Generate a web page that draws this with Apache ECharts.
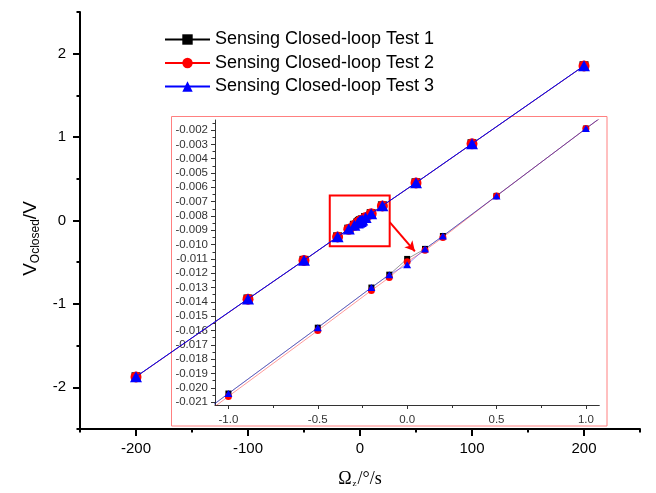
<!DOCTYPE html>
<html>
<head>
<meta charset="utf-8">
<script src="https://cdn.jsdelivr.net/npm/echarts@6/dist/echarts.min.js"></script>
<style>
html, body { margin: 0; padding: 0; background: #fff; }
#main { width: 656px; height: 493px; }
</style>
</head>
<body>
<div id="main"></div>
<script>
// angular rate set points (deg/s), same for all three tests
const omega = [-200, -100, -50, -20, -10, -5, -2, -1, -0.5, -0.2, -0.1, 0, 0.1, 0.2, 0.5, 1, 2, 5, 10, 20, 50, 100, 200];
// closed-loop output (V)
const test1 = [-1.874, -0.941, -0.478, -0.196, -0.104, -0.0575, -0.0297, -0.0204, -0.0158, -0.0130, -0.0121, -0.0110, -0.0103, -0.0094, -0.0066, -0.0019, 0.0074, 0.0353, 0.0818, 0.176, 0.452, 0.920, 1.855];
const test2 = [-1.876, -0.943, -0.479, -0.197, -0.105, -0.0578, -0.0299, -0.0206, -0.0160, -0.0132, -0.0123, -0.0112, -0.0104, -0.0095, -0.0066, -0.0019, 0.0072, 0.0351, 0.0816, 0.175, 0.451, 0.919, 1.853];
const test3 = [-1.873, -0.940, -0.477, -0.195, -0.103, -0.0573, -0.0296, -0.0204, -0.0158, -0.0130, -0.0121, -0.0114, -0.0103, -0.0094, -0.0066, -0.0019, 0.0074, 0.0354, 0.0819, 0.177, 0.453, 0.921, 1.856];

const names = ['Sensing Closed-loop Test 1', 'Sensing Closed-loop Test 2', 'Sensing Closed-loop Test 3'];

// tick labels
const mainXTicks = [-200, -100, 0, 100, 200];
const mainXMinor = [-250, -150, -50, 50, 150, 250];
const mainYTicks = [-2, -1, 0, 1, 2];
const mainYMinor = [-2.5, -1.5, -0.5, 0.5, 1.5, 2.5];
const insetXTicks = [-1, -0.5, 0, 0.5, 1];
const insetXMinor = [-0.75, -0.25, 0.25, 0.75];
const insetYTicks = [-0.021, -0.020, -0.019, -0.018, -0.017, -0.016, -0.015, -0.014, -0.013, -0.012, -0.011,
  -0.010, -0.009, -0.008, -0.007, -0.006, -0.005, -0.004, -0.003, -0.002];
const insetYMinor = [-0.0205, -0.0195, -0.0185, -0.0175, -0.0165, -0.0155, -0.0145, -0.0135, -0.0125, -0.0115,
  -0.0105, -0.0095, -0.0085, -0.0075, -0.0065, -0.0055, -0.0045, -0.0035, -0.0025, -0.0015];

// zoom box around the small-rate cluster and the arrow to the inset (main axes units)
const zoomBox = [[-27, 0.30], [26.5, -0.31]];
const arrowFrom = [26.5, -0.02];
const arrowTo = [49, -0.37];

const colors = ['#000000', '#ff0000', '#0000ff'];
const tests = [test1, test2, test3];
const font = "'Liberation Sans', Arial, sans-serif";

function pairs(ys) {
  return omega.map((x, i) => [x, ys[i]]);
}

const chart = echarts.init(document.getElementById('main'));

const mainSymbols = [['rect', 9], ['circle', 11], ['triangle', [12, 11]]];
const insetSymbols = [['rect', 6], ['circle', 7], ['triangle', [8, 7]]];

const series = [];
tests.forEach((ys, i) => {
  const s = {
    name: names[i],
    type: 'line',
    xAxisIndex: 0,
    yAxisIndex: 0,
    data: pairs(ys),
    symbol: mainSymbols[i][0],
    symbolSize: mainSymbols[i][1],
    showAllSymbol: true,
    color: colors[i],
    lineStyle: { color: colors[i], width: i === 2 ? 1 : 0.5 },
    itemStyle: { color: colors[i] },
    z: 5 + i
  };
  if (i === 2) {
    s.markArea = {
      silent: true,
      itemStyle: { color: 'transparent', borderColor: '#ff0000', borderWidth: 2 },
      data: [[{ coord: zoomBox[0] }, { coord: zoomBox[1] }]]
    };
    s.markLine = {
      silent: true,
      symbol: ['none', 'arrow'],
      symbolSize: [8, 10],
      label: { show: false },
      lineStyle: { color: '#ff0000', width: 2, type: 'solid' },
      data: [[{ coord: arrowFrom }, { coord: arrowTo }]]
    };
  }
  series.push(s);
});
tests.forEach((ys, i) => {
  series.push({
    name: names[i],
    type: 'line',
    xAxisIndex: 2,
    yAxisIndex: 2,
    data: pairs(ys),
    clip: true,
    symbol: insetSymbols[i][0],
    symbolSize: insetSymbols[i][1],
    showAllSymbol: true,
    color: colors[i],
    lineStyle: { color: colors[i], width: 1, opacity: 0.4 },
    itemStyle: { color: colors[i] },
    z: 3 + i
  });
});

const mainLine = { show: true, onZero: false, lineStyle: { color: '#000', width: 2 } };
const insetLine = { show: true, onZero: false, lineStyle: { color: '#333', width: 1 } };
const noLine = { show: false, onZero: false };

chart.setOption({
  animation: false,
  backgroundColor: '#fff',
  textStyle: { fontFamily: font },
  grid: [
    { left: 80, top: 12, width: 560, height: 417 },
    { left: 215, top: 120, width: 384.3, height: 285 }
  ],
  graphic: [{
    type: 'rect',
    z: 0,
    shape: { x: 171.5, y: 116.5, width: 435.5, height: 309.5 },
    style: { fill: 'none', stroke: '#ff8080', lineWidth: 1 }
  }],
  legend: {
    orient: 'vertical',
    left: 159,
    top: 24.5,
    itemWidth: 45,
    itemHeight: 13,
    itemGap: 3.5,
    textStyle: { fontSize: 18, fontFamily: font, color: '#000', lineHeight: 20 },
    data: names
  },
  xAxis: [
    {
      gridIndex: 0, type: 'value', min: -250, max: 250,
      axisLine: mainLine,
      axisTick: { customValues: mainXTicks, length: 7, lineStyle: { color: '#000', width: 2 } },
      axisLabel: { customValues: mainXTicks, fontSize: 15, color: '#000', margin: 12, fontFamily: font },
      splitLine: { show: false },
      name: '{o|Ω}{z|z}{o|/°/s}',
      nameLocation: 'middle',
      nameGap: 41,
      nameTextStyle: {
        rich: {
          o: { fontFamily: "'Liberation Serif', 'Times New Roman', serif", fontSize: 18, lineHeight: 18, verticalAlign: 'top', color: '#000' },
          z: { fontFamily: "'Liberation Serif', 'Times New Roman', serif", fontSize: 9, lineHeight: 9, padding: [14, 1, 0, 1], verticalAlign: 'bottom', color: '#000' }
        }
      }
    },
    {
      gridIndex: 0, type: 'value', min: -250, max: 250, position: 'bottom',
      axisLine: noLine,
      axisTick: { customValues: mainXMinor, length: 3.5, lineStyle: { color: '#000', width: 2 } },
      axisLabel: { show: false },
      splitLine: { show: false }
    },
    {
      gridIndex: 1, type: 'value', min: -1.075, max: 1.075,
      axisLine: insetLine,
      axisTick: { customValues: insetXTicks, length: 4, lineStyle: { color: '#333', width: 1 } },
      axisLabel: { customValues: insetXTicks, fontSize: 11.5, color: '#333', margin: 9, fontFamily: font,
        formatter: v => v.toFixed(1) },
      splitLine: { show: false }
    },
    {
      gridIndex: 1, type: 'value', min: -1.075, max: 1.075, position: 'bottom',
      axisLine: noLine,
      axisTick: { customValues: insetXMinor, length: 3, lineStyle: { color: '#333', width: 1 } },
      axisLabel: { show: false },
      splitLine: { show: false }
    }
  ],
  yAxis: [
    {
      gridIndex: 0, type: 'value', min: -2.5, max: 2.5,
      axisLine: mainLine,
      axisTick: { customValues: mainYTicks, length: 7, lineStyle: { color: '#000', width: 2 } },
      axisLabel: { customValues: mainYTicks, fontSize: 15, color: '#000', margin: 14, fontFamily: font },
      splitLine: { show: false },
      name: '{v|V}{s|Oclosed}{v|/V}',
      nameLocation: 'middle',
      nameRotate: 90,
      nameGap: 37,
      nameTextStyle: {
        padding: [0, 36, 0, 0],
        rich: {
          v: { fontFamily: font, fontSize: 19, lineHeight: 20, verticalAlign: 'top', color: '#000' },
          s: { fontFamily: font, fontSize: 12, lineHeight: 12, padding: [13, 0, 0, 0], verticalAlign: 'bottom', color: '#000' }
        }
      }
    },
    {
      gridIndex: 0, type: 'value', min: -2.5, max: 2.5, position: 'left',
      axisLine: noLine,
      axisTick: { customValues: mainYMinor, length: 3.5, lineStyle: { color: '#000', width: 2 } },
      axisLabel: { show: false },
      splitLine: { show: false }
    },
    {
      gridIndex: 1, type: 'value', min: -0.0212, max: -0.0013,
      axisLine: insetLine,
      axisTick: { customValues: insetYTicks, length: 4, lineStyle: { color: '#333', width: 1 } },
      axisLabel: { customValues: insetYTicks, fontSize: 11.5, color: '#333', margin: 7, fontFamily: font,
        formatter: v => v.toFixed(3) },
      splitLine: { show: false }
    },
    {
      gridIndex: 1, type: 'value', min: -0.0212, max: -0.0013, position: 'left',
      axisLine: noLine,
      axisTick: { customValues: insetYMinor, length: 2.5, lineStyle: { color: '#333', width: 1 } },
      axisLabel: { show: false },
      splitLine: { show: false }
    }
  ],
  series: series
});
</script>
</body>
</html>
